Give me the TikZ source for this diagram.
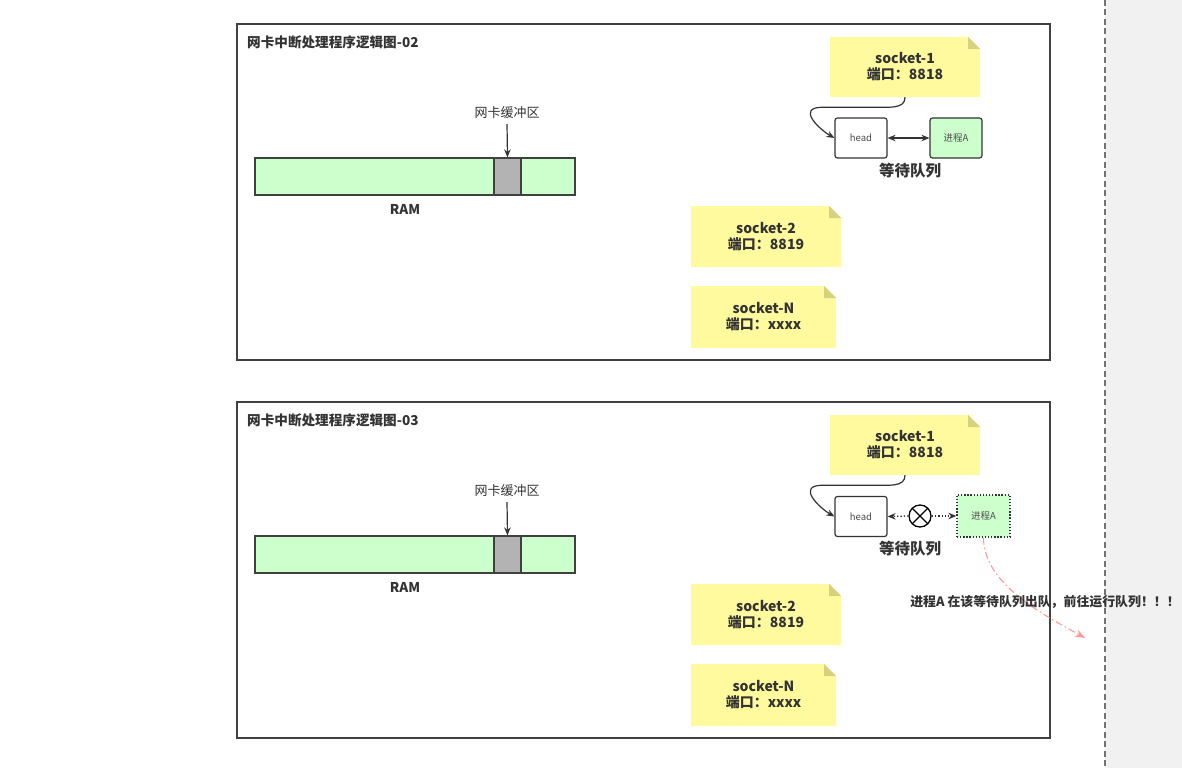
\documentclass[tikz,border=0pt]{standalone}
\usepackage{fontspec}
\setmainfont{Noto Sans CJK SC}
\usetikzlibrary{arrows.meta,calc}
\definecolor{txt}{HTML}{333333}
\definecolor{notey}{HTML}{FFFA9E}
\definecolor{foldy}{HTML}{D6D17D}
\definecolor{ramg}{HTML}{CCFFCC}
\definecolor{bufg}{HTML}{B3B3B3}
\definecolor{panelg}{HTML}{F1F1F1}
\definecolor{redarr}{HTML}{FF9999}
\tikzset{
  frame/.style={draw=black!75, line width=1.2pt, inner sep=0, outer sep=0},
  title/.style={anchor=west, inner sep=0, text=txt, font=\bfseries\fontsize{13.6}{15}\selectfont},
  ram/.style={draw=black!75, fill=ramg, line width=1.2pt, inner sep=0, minimum width=320, minimum height=37},
  buf/.style={draw=black!75, fill=bufg, line width=1.2pt, inner sep=0, minimum width=27, minimum height=37},
  lbl/.style={inner sep=1pt, text=txt, font=\fontsize{13}{14}\selectfont},
  blbl/.style={inner sep=1pt, text=txt, font=\bfseries\fontsize{13.5}{15}\selectfont},
  arr/.style={draw=txt, line width=1.2pt, -{Stealth[length=8pt,width=6.5pt]}},
  darr/.style={draw=txt, line width=1.2pt, {Stealth[length=8pt,width=6.5pt]}-{Stealth[length=8pt,width=6.5pt]}},
  dotarr/.style={draw=txt, line width=1.3pt, dash pattern=on 1.3pt off 2pt, -{Stealth[length=8pt,width=6.5pt]}},
  note/.style={inner sep=0, align=center, text=txt, font=\bfseries\fontsize{14}{16}\selectfont,
    path picture={
      \path (path picture bounding box.south west) coordinate (nsw)
            (path picture bounding box.north east) coordinate (nne);
      \fill[notey] (nsw) |- ([xshift=-12pt]nne) -- ([yshift=-12pt]nne) |- cycle;
      \fill[foldy] ([xshift=-12pt]nne) -- ([xshift=-12pt,yshift=-12pt]nne) -- ([yshift=-12pt]nne) -- cycle;
    }},
  qbox/.style={draw=txt, line width=1.2pt, rounded corners=2.5pt, fill=white, minimum width=52, minimum height=40, inner sep=0, text=black!70, font=\fontsize{9.5}{10}\selectfont},
  pbox/.style={qbox, fill=ramg},
  pdot/.style={draw=txt, line width=1.3pt, dash pattern=on 1.3pt off 1.8pt, fill=ramg, minimum width=53, minimum height=42, inner sep=0, text=black!70, font=\fontsize{9.5}{10}\selectfont},
  wq/.style={inner sep=0, text=txt, font=\bfseries\fontsize{15.5}{17}\selectfont},
  redline/.style={draw=redarr, line width=1.1pt, dash pattern=on 7pt off 3pt on 1.5pt off 3pt, -{Stealth[length=10pt,width=7.5pt]}},
}
\begin{document}
\begin{tikzpicture}[x=1pt,y=-1pt]
\useasboundingbox (0,0) rectangle (1182,768);
\fill[white] (0,0) rectangle (1182,768);
% right panel
\fill[panelg] (1105,0) rectangle (1182,768);
\draw[draw=black!55, line width=1.8pt, dash pattern=on 6pt off 3.5pt] (1105,0) -- (1105,768);

% ===== Frame 1 =====
\node[frame, minimum width=813, minimum height=336] (f1) at (643.5,192) {};
\node[title] (t1) at (247,42) {网卡中断处理程序逻辑图-02};
\node[ram] (ram1) at (415,176.5) {};
\node[buf] (buf1) at (507.5,176.5) {};
\node[lbl] (bl1) at (507,113) {网卡缓冲区};
\draw[arr] (bl1.south) ++(0,4) -- (buf1.north);
\node[blbl] (r1) at (405,209) {RAM};
\node[note, minimum width=150, minimum height=60] (s1a) at (905,67) {socket-1\\端口：8818};
\node[note, minimum width=150, minimum height=61] (s2a) at (766,236.5) {socket-2\\端口：8819};
\node[note, minimum width=145, minimum height=62] (sna) at (763.5,317) {socket-N\\端口：xxxx};
\node[qbox] (h1) at (861,138) {head};
\node[pbox] (p1) at (956,138) {进程A};
\draw[darr] (h1.east) -- (p1.west);
\node[wq] (w1) at (910,171) {等待队列};
\draw[arr] (s1a.south) .. controls +(0,12) and +(20,0) .. ([xshift=-35pt,yshift=-10pt]s1a.south)
  -- ([xshift=-82pt,yshift=-10pt]s1a.south) .. controls +(-28,0) and +(-14,-8) .. (h1.west);

% ===== Frame 2 =====
\node[frame, minimum width=813, minimum height=336] (f2) at (643.5,570) {};
\node[title] (t2) at (247,420) {网卡中断处理程序逻辑图-03};
\node[ram] (ram2) at (415,554.5) {};
\node[buf] (buf2) at (507.5,554.5) {};
\node[lbl] (bl2) at (507,491) {网卡缓冲区};
\draw[arr] (bl2.south) ++(0,4) -- (buf2.north);
\node[blbl] (r2) at (405,587) {RAM};
\node[note, minimum width=150, minimum height=60] (s1b) at (905,445) {socket-1\\端口：8818};
\node[note, minimum width=150, minimum height=61] (s2b) at (766,614.5) {socket-2\\端口：8819};
\node[note, minimum width=145, minimum height=62] (snb) at (763.5,695) {socket-N\\端口：xxxx};
\node[qbox] (h2) at (861,516.5) {head};
\node[pdot] (p2) at (983.5,516) {进程A};
\node[circle, draw=black, line width=1.3pt, minimum size=22, inner sep=0,
  path picture={\draw[line width=1.3pt] (path picture bounding box.north west) -- (path picture bounding box.south east)
    (path picture bounding box.north east) -- (path picture bounding box.south west);}] (x2) at (920,516) {};
\draw[dotarr] (x2.west) -- (h2.east);
\draw[dotarr] (x2.east) -- (p2.west);
\node[wq] (w2) at (910,549) {等待队列};
\draw[arr] (s1b.south) .. controls +(0,12) and +(20,0) .. ([xshift=-35pt,yshift=-10pt]s1b.south)
  -- ([xshift=-82pt,yshift=-10pt]s1b.south) .. controls +(-28,0) and +(-14,-8) .. (h2.west);
\coordinate (rend) at (1085,638);
\draw[redline] (p2.south) .. controls +(0,45) and +(-45,-25) .. (rend);
\node[inner sep=0, text=txt, font=\bfseries\fontsize{12.9}{14}\selectfont] (msg) at (1045,602) {进程A 在该等待队列出队，前往运行队列！！！};
\end{tikzpicture}
\end{document}
